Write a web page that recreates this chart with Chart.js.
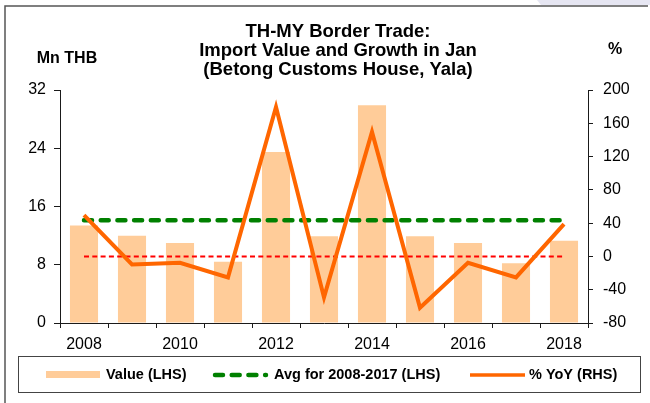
<!DOCTYPE html>
<html>
<head>
<meta charset="utf-8">
<title>TH-MY Border Trade: Import Value and Growth in Jan</title>
<script src="https://cdn.jsdelivr.net/npm/chart.js@4.4.1/dist/chart.umd.min.js"></script>
<style>
  html, body { margin: 0; padding: 0; background: #ffffff; }
  #wrap { width: 650px; height: 403px; position: relative; }
</style>
</head>
<body>
<div id="wrap"><canvas id="chart" width="650" height="403"></canvas></div>
<script>
// Years shown on the category axis
const years = ['2008', '2009', '2010', '2011', '2012', '2013', '2014', '2015', '2016', '2017', '2018'];
// Import value in January, Mn THB (left axis)
const importValue = [13.4, 12.0, 11.0, 8.4, 23.5, 11.9, 29.9, 11.9, 11.0, 8.2, 11.3];
// Year-on-year growth, % (right axis)
const yoyGrowth = [49.6, -9.6, -7.6, -25.2, 179.6, -49.2, 149.6, -61.6, -7.6, -25.2, 38.8];
// Average import value for 2008-2017, Mn THB
const avgValue = 14.1;
// Axis ticks
const leftTicks = [0, 8, 16, 24, 32];
const rightTicks = [-80, -40, 0, 40, 80, 120, 160, 200];
// Text
const titleLines = ['TH-MY Border Trade:', 'Import Value and Growth in Jan', '(Betong Customs House, Yala)'];
const leftUnit = 'Mn THB';
const rightUnit = '%';
const seriesNames = ['Value (LHS)', 'Avg for 2008-2017 (LHS)', '% YoY (RHS)'];

const FONT = '"Liberation Sans", Arial, Helvetica, sans-serif';
const C_BAR = '#FFCC99';
const C_AVG = '#008000';
const C_YOY = '#FF6600';
const C_ZERO = '#FF0000';
const C_AXIS = '#1a1a1a';

// Frame, title, unit labels and the boxed legend
const decorations = {
  id: 'decorations',
  beforeDraw(chart) {
    const ctx = chart.ctx;
    ctx.save();
    // light tab in the top right corner
    ctx.fillStyle = '#E6E6F2';
    ctx.beginPath();
    ctx.moveTo(537, 0); ctx.lineTo(650, 0); ctx.lineTo(650, 5); ctx.lineTo(541, 5);
    ctx.closePath(); ctx.fill();
    // outer frame (left and top edges)
    ctx.strokeStyle = '#555555';
    ctx.lineWidth = 1.5;
    ctx.beginPath();
    ctx.moveTo(5, 403); ctx.lineTo(5, 6); ctx.lineTo(648, 6);
    ctx.stroke();
    ctx.restore();
  },
  afterDraw(chart) {
    const ctx = chart.ctx;
    ctx.save();
    ctx.fillStyle = '#000000';
    ctx.textAlign = 'center';
    ctx.textBaseline = 'middle';
    ctx.font = 'bold 18.5px ' + FONT;
    titleLines.forEach((t, i) => ctx.fillText(t, 338, 32 + i * 19));
    ctx.font = 'bold 16px ' + FONT;
    ctx.fillText(leftUnit, 67, 59);
    ctx.fillText(rightUnit, 615, 50);

    // legend frame
    ctx.strokeStyle = '#444444';
    ctx.lineWidth = 1;
    ctx.strokeRect(18.5, 356.5, 622, 36);

    const ds = chart.data.datasets;
    const y = 375;
    ctx.font = 'bold 14.5px ' + FONT;
    ctx.textAlign = 'left';
    // bars
    ctx.fillStyle = ds[0].backgroundColor;
    ctx.fillRect(46, 371, 54, 7);
    ctx.fillStyle = '#000000';
    ctx.fillText(ds[0].label, 106, y);
    // average line
    ctx.strokeStyle = ds[1].borderColor;
    ctx.lineWidth = ds[1].borderWidth;
    ctx.lineCap = 'round';
    ctx.setLineDash(ds[1].borderDash);
    ctx.beginPath(); ctx.moveTo(215, y); ctx.lineTo(266, y); ctx.stroke();
    ctx.setLineDash([]);
    ctx.lineCap = 'butt';
    ctx.fillText(ds[1].label, 274, y);
    // growth line
    ctx.strokeStyle = ds[2].borderColor;
    ctx.lineWidth = 3.5;
    ctx.beginPath(); ctx.moveTo(470, y); ctx.lineTo(525, y); ctx.stroke();
    ctx.fillText(ds[2].label, 529, y);
    ctx.restore();
  }
};

new Chart(document.getElementById('chart'), {
  data: {
    labels: years,
    datasets: [
      {
        type: 'bar',
        label: seriesNames[0],
        data: importValue,
        yAxisID: 'y',
        backgroundColor: C_BAR,
        borderWidth: 0,
        barPercentage: 0.585,
        categoryPercentage: 1.0,
        order: 4
      },
      {
        type: 'line',
        label: seriesNames[1],
        data: years.map(() => avgValue),
        yAxisID: 'y',
        borderColor: C_AVG,
        borderWidth: 4.5,
        borderDash: [8, 8.7],
        borderCapStyle: 'round',
        pointRadius: 0,
        fill: false,
        order: 2
      },
      {
        type: 'line',
        label: seriesNames[2],
        data: yoyGrowth,
        yAxisID: 'y1',
        borderColor: C_YOY,
        borderWidth: 4,
        borderJoinStyle: 'miter',
        pointRadius: 0,
        tension: 0,
        fill: false,
        order: 1
      },
      {
        type: 'line',
        label: 'zero',
        data: years.map(() => 0),
        yAxisID: 'y1',
        borderColor: C_ZERO,
        borderWidth: 2,
        borderDash: [5, 3.3],
        pointRadius: 0,
        fill: false,
        order: 3
      }
    ]
  },
  options: {
    responsive: false,
    animation: false,
    layout: { padding: { top: 90, left: 0, right: 0, bottom: 0 } },
    plugins: {
      legend: { display: false },
      title: { display: false },
      tooltip: { enabled: false }
    },
    scales: {
      x: {
        type: 'category',
        offset: true,
        grid: { offset: true, drawOnChartArea: false, drawTicks: true, tickLength: 5, color: C_AXIS, lineWidth: 1 },
        border: { display: true, color: C_AXIS, width: 1 },
        ticks: {
          autoSkip: false,
          maxRotation: 0,
          padding: 7,
          color: '#000000',
          font: { family: FONT, size: 16 },
          callback: function (val, idx) { return idx % 2 === 0 ? this.getLabelForValue(val) : ''; }
        },
        afterFit(scale) { scale.height = 80; }
      },
      y: {
        position: 'left',
        min: leftTicks[0],
        max: leftTicks[leftTicks.length - 1],
        afterBuildTicks(scale) { scale.ticks = leftTicks.map(v => ({ value: v })); },
        grid: { drawOnChartArea: false, drawTicks: true, tickLength: 6, color: C_AXIS, lineWidth: 1 },
        border: { display: true, color: C_AXIS, width: 1 },
        ticks: { padding: 8, color: '#000000', font: { family: FONT, size: 16 } },
        afterFit(scale) { scale.width = 60; }
      },
      y1: {
        position: 'right',
        min: rightTicks[0],
        max: rightTicks[rightTicks.length - 1],
        afterBuildTicks(scale) { scale.ticks = rightTicks.map(v => ({ value: v })); },
        grid: { drawOnChartArea: false, drawTicks: true, tickLength: 5, color: C_AXIS, lineWidth: 1 },
        border: { display: true, color: C_AXIS, width: 1 },
        ticks: { padding: 10, color: '#000000', font: { family: FONT, size: 16 } },
        afterFit(scale) { scale.width = 62; }
      }
    }
  },
  plugins: [decorations]
});
</script>
</body>
</html>
